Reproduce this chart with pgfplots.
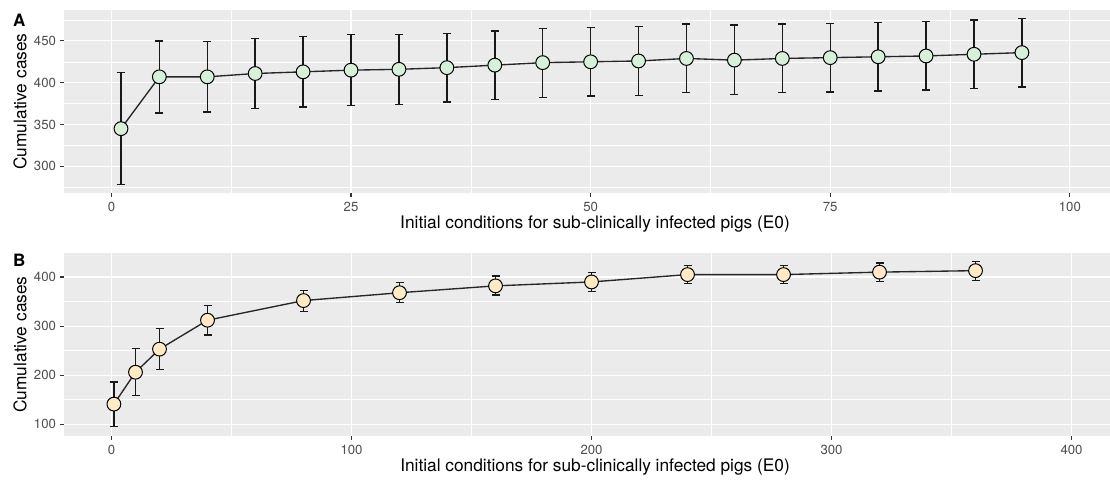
\documentclass[border=0pt]{standalone}
\usepackage{pgfplots}
\pgfplotsset{compat=1.18}
\usepackage{pgfplotstable}
\usepackage{fontspec}
\setmainfont{TeX Gyre Heros}
\definecolor{ggbg}{HTML}{EBEBEB}
\definecolor{gray30}{HTML}{4D4D4D}
\definecolor{gray20}{HTML}{333333}
\definecolor{fillA}{HTML}{D6F0D9}
\definecolor{fillB}{HTML}{FDEBC3}

\pgfplotstableread{
x y ep em
1 345 67 67
5 407 43 43
10 407 42 42
15 411 42 42
20 413 42 42
25 415 43 42
30 416 42 42
35 418 41 41
40 421 41 41
45 424 41 42
50 425 41 41
55 426 41 41
60 429 41 41
65 427 42 41
70 429 41 41
75 430 41 41
80 431 41 41
85 432 41 41
90 434 41 41
95 436 41 41
}\dataA

\pgfplotstableread{
x y ep em
1 141 45 46
10 206 48 48
20 253 42 42
40 312 30 30
80 352 21 22
120 368 21 20
160 382 20 19
200 390 19 19
240 405 18 18
280 405 18 18
320 410 19 19
360 413 19 20
}\dataB

\pgfplotsset{
  ggstyle/.style={
    scale only axis,
    anchor=south west,
    width=1046.5pt, height=183pt,
    axis background/.style={fill=ggbg},
    axis line style={draw=none},
    grid=both,
    major grid style={white, line width=1.1pt},
    minor grid style={white, line width=0.55pt},
    tick align=outside,
    xtick pos=left, ytick pos=left,
    major tick length=4pt,
    minor tick length=0pt,
    tick style={gray20, line width=1.1pt},
    /pgf/number format/assume math mode=true,
    ticklabel style={font=\fontsize{13.2}{15}\selectfont, text=gray30},
    xticklabel style={inner sep=0pt, yshift=-5.3pt},
    label style={font=\fontsize{17.3}{19}\selectfont, text=black},
    xlabel style={at={(axis description cs:0.5079,0)}, anchor=base, inner sep=0pt, yshift=-35.5pt},
    ylabel style={at={(axis description cs:-0.0416,0.5)}, anchor=center},
    xlabel={Initial conditions for sub-clinically infected pigs (E0)},
    ylabel={Cumulative cases},
  },
  ggline/.style={
    black!85, line width=1.35pt,
    mark=*, mark size=6.9pt,
    error bars/y dir=both, error bars/y explicit,
    error bars/error bar style={line width=1.45pt, black!90},
    error bars/error mark options={rotate=90, mark size=4pt, line width=1.45pt, black!90},
  },
}

\begin{document}
\begin{tikzpicture}
\begin{axis}[ggstyle,
  at={(63.5pt,286pt)},
  xmin=-5, xmax=104.19, ymin=268, ymax=487,
  xtick={0,25,50,75,100}, minor xtick={12.5,37.5,62.5,87.5},
  ytick={300,350,400,450}, minor ytick={275,325,375,425,475},
]
\addplot[ggline, mark options={fill=fillA, draw=black, line width=1pt}]
  table[x=x, y=y, y error plus=ep, y error minus=em] {\dataA};
\end{axis}

\begin{axis}[ggstyle,
  at={(63.5pt,43pt)},
  xmin=-20, xmax=416.04, ymin=76, ymax=449,
  xtick={0,100,200,300,400}, minor xtick={50,150,250,350},
  ytick={100,200,300,400}, minor ytick={150,250,350},
]
\addplot[ggline, mark options={fill=fillB, draw=black, line width=1pt}]
  table[x=x, y=y, y error plus=ep, y error minus=em] {\dataB};
\end{axis}

\node[anchor=base west, inner sep=0pt, font=\fontsize{17}{19}\selectfont\bfseries] at (13pt,452pt) {A};
\node[anchor=base west, inner sep=0pt, font=\fontsize{17}{19}\selectfont\bfseries] at (13pt,212pt) {B};

\pgfresetboundingbox
\useasboundingbox (0,0) rectangle (1110pt,479pt);
\end{tikzpicture}
\end{document}
